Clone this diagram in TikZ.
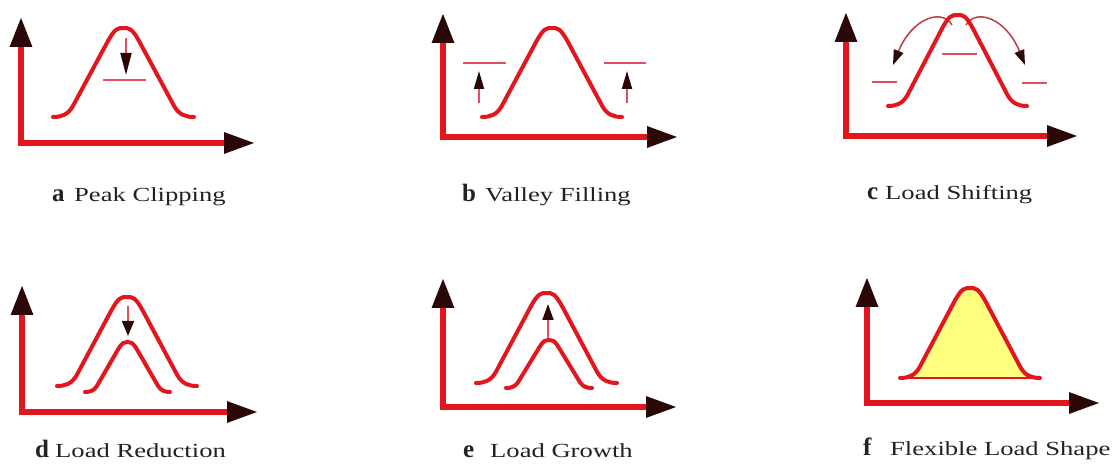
\documentclass[tikz,border=0pt]{standalone}
\usepackage{fontspec}
\setmainfont{Liberation Serif}
\usetikzlibrary{arrows.meta}
\definecolor{lred}{HTML}{E3161D}
\definecolor{dk}{HTML}{2A0808}
\definecolor{pinkline}{HTML}{E0505E}
\definecolor{arcline}{HTML}{C03A48}
\definecolor{fillyel}{HTML}{FFFF80}
\definecolor{txt}{HTML}{222222}
\newcommand\stretchtxt[1]{\scalebox{1.33}[1]{#1}}
\newcommand\loadbump[5][]{%
  \draw[curve,#1,shift={(#2,#3)},x={(#4pt,0pt)},y={(0pt,#5pt)}]
    (0,0) .. controls (0.06,0) and (0.105,0.025) .. (0.14,0.12)
    -- (0.385,0.84) .. controls (0.44,1.0) and (0.46,1.0) .. (0.5,1.0)
    .. controls (0.54,1.0) and (0.56,1.0) .. (0.615,0.84)
    -- (0.86,0.12) .. controls (0.895,0.025) and (0.94,0) .. (1,0);}
\tikzset{
  axis/.style={lred, line width=6pt, line join=miter,
    {Triangle[length=30pt,width=21pt,color=dk]}-{Triangle[length=31pt,width=20pt,color=dk]}},
  curve/.style={lred, line width=4pt, line cap=round, line join=round},
  marker/.style={pinkline, line width=2pt},
  shaft/.style={pinkline, line width=1.8pt},
  arcarrow/.style={arcline, line width=1.5pt, -{Triangle[length=15pt,width=10pt,color=dk]}},
  letter/.style={anchor=base west, inner sep=0pt, text=txt,
    font=\fontsize{25}{25}\selectfont\bfseries},
  caption/.style={anchor=base west, inner sep=0pt, text=txt,
    font=\fontsize{20}{20}\selectfont},
}
\begin{document}
\begin{tikzpicture}[x=1pt,y=-1pt]
\useasboundingbox[fill=white] (0,0) rectangle (1112,473);

% ---------- a Peak Clipping
\coordinate (a-y) at (21,17); \coordinate (a-o) at (21,143); \coordinate (a-x) at (255,143);
\draw[axis] (a-y) -- (a-o) -- (a-x);
\loadbump{53}{117}{141}{89}
\coordinate (a-m1) at (103,80); \coordinate (a-m2) at (146,80);
\draw[marker] (a-m1) -- (a-m2);
\coordinate (a-s) at (126,38); \coordinate (a-t) at (126,75);
\draw[shaft,-{Triangle[length=22pt,width=11pt,color=dk]}] (a-s) -- (a-t);
\node[letter] (la) at (52,202) {a};
\node[caption] (ca) at (74,202) {\stretchtxt{Peak Clipping}};

% ---------- b Valley Filling
\coordinate (b-y) at (443,13); \coordinate (b-o) at (443,137); \coordinate (b-x) at (678,137);
\draw[axis] (b-y) -- (b-o) -- (b-x);
\loadbump{482}{117}{140}{89}
\coordinate (b-m1) at (463,63); \coordinate (b-m2) at (506,63);
\coordinate (b-m3) at (604,63); \coordinate (b-m4) at (646,63);
\draw[marker] (b-m1) -- (b-m2);
\draw[marker] (b-m3) -- (b-m4);
\coordinate (b-s1) at (479,103); \coordinate (b-t1) at (479,71);
\coordinate (b-s2) at (627,103); \coordinate (b-t2) at (627,71);
\draw[shaft,-{Triangle[length=18pt,width=10pt,color=dk]}] (b-s1) -- (b-t1);
\draw[shaft,-{Triangle[length=18pt,width=10pt,color=dk]}] (b-s2) -- (b-t2);
\node[letter] (lb) at (462,202) {b};
\node[caption] (cb) at (485,202) {\stretchtxt{Valley Filling}};

% ---------- c Load Shifting
\coordinate (c-y) at (846,12); \coordinate (c-o) at (846,136); \coordinate (c-x) at (1078,136);
\draw[axis] (c-y) -- (c-o) -- (c-x);
\coordinate (c-s1) at (952,25); \coordinate (c-t1) at (893,65);
\coordinate (c-s2) at (966,25); \coordinate (c-t2) at (1025,65);
\draw[arcarrow] (c-s1) .. controls (942,8) and (912,18) .. (c-t1);
\draw[arcarrow] (c-s2) .. controls (976,8) and (1006,18) .. (c-t2);
\loadbump{888}{106}{139}{91}
\coordinate (c-m1) at (942,54); \coordinate (c-m2) at (977,54);
\coordinate (c-m3) at (872,82); \coordinate (c-m4) at (897,82);
\coordinate (c-m5) at (1022,83); \coordinate (c-m6) at (1047,83);
\draw[marker] (c-m1) -- (c-m2);
\draw[marker] (c-m3) -- (c-m4);
\draw[marker] (c-m5) -- (c-m6);
\node[letter] (lc) at (867,200) {c};
\node[caption] (cc) at (885,200) {\stretchtxt{Load Shifting}};

% ---------- d Load Reduction
\coordinate (d-y) at (22,285); \coordinate (d-o) at (22,412); \coordinate (d-x) at (258,412);
\draw[axis] (d-y) -- (d-o) -- (d-x);
\loadbump{57}{386}{140}{89}
\loadbump{85}{392}{85}{50}
\coordinate (d-s) at (128,306); \coordinate (d-t) at (128,336);
\draw[shaft,-{Triangle[length=15pt,width=12pt,color=dk]}] (d-s) -- (d-t);
\node[letter] (ld) at (35,457) {d};
\node[caption] (cd) at (55,457) {\stretchtxt{Load Reduction}};

% ---------- e Load Growth
\coordinate (e-y) at (443,278); \coordinate (e-o) at (443,407); \coordinate (e-x) at (677,407);
\draw[axis] (e-y) -- (e-o) -- (e-x);
\loadbump{476}{383}{141}{90}
\loadbump{506}{388}{86}{48}
\coordinate (e-s) at (548,338); \coordinate (e-t) at (548,304);
\draw[shaft,-{Triangle[length=16pt,width=11pt,color=dk]}] (e-s) -- (e-t);
\node[letter] (le) at (463,457) {e};
\node[caption] (ce) at (490,457) {\stretchtxt{Load Growth}};

% ---------- f Flexible Load Shape
\coordinate (f-y) at (867,277); \coordinate (f-o) at (867,403); \coordinate (f-x) at (1100,403);
\draw[axis] (f-y) -- (f-o) -- (f-x);
\loadbump[fill=fillyel]{900}{378}{140}{90}
\coordinate (f-b1) at (906,378); \coordinate (f-b2) at (1034,378);
\draw[lred, line width=2.5pt] (f-b1) -- (f-b2);
\node[letter] (lf) at (863,455) {f};
\node[caption] (cf) at (890,455) {\stretchtxt{Flexible Load Shape}};
\end{tikzpicture}
\end{document}
